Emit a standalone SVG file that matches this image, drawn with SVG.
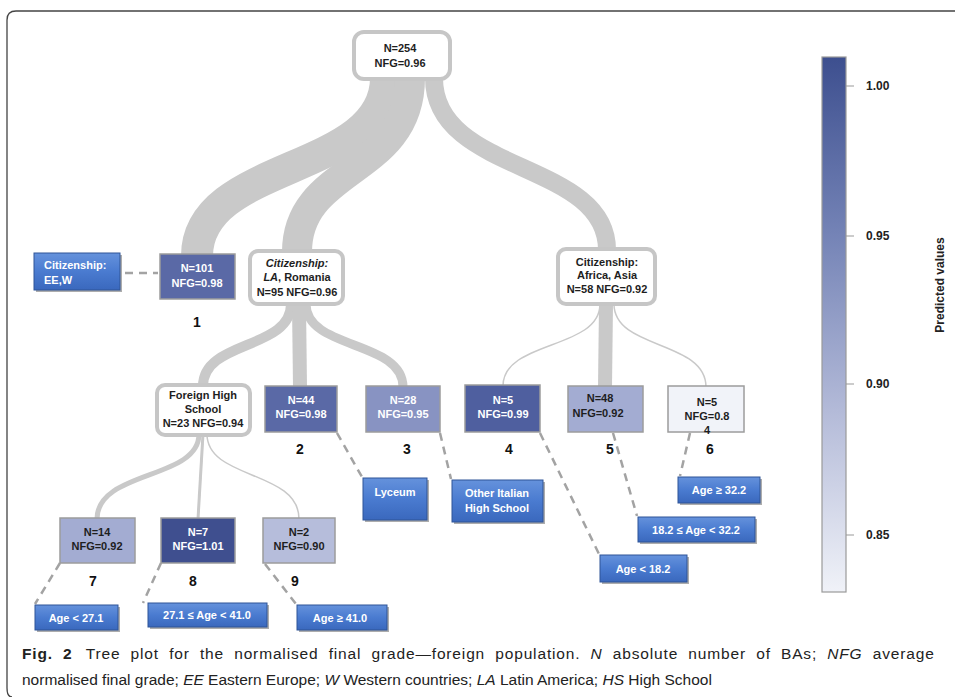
<svg xmlns="http://www.w3.org/2000/svg" width="955" height="697" viewBox="0 0 955 697">
<defs>
<linearGradient id="blueg" x1="0" y1="0" x2="0" y2="1">
<stop offset="0" stop-color="#6592dc"/>
<stop offset="0.5" stop-color="#4a7bd0"/>
<stop offset="1" stop-color="#3a68bd"/>
</linearGradient>
<linearGradient id="cbar" x1="0" y1="0" x2="0" y2="1">
<stop offset="0" stop-color="#3d4f8f"/>
<stop offset="0.33" stop-color="#7483b6"/>
<stop offset="0.66" stop-color="#b3bad8"/>
<stop offset="1" stop-color="#f0f2f8"/>
</linearGradient>
<style>
.br{fill:none;stroke:#c9c9c9;stroke-linecap:butt}
.dash{fill:none;stroke:#a3a3a3;stroke-width:2.5;stroke-dasharray:8 6}
.inner{fill:#fff;stroke:#c6c6c6;stroke-width:4}
.leaf{stroke:#9c9c9c;stroke-width:1.5}
.cond{fill:url(#blueg);stroke:#2f5597;stroke-width:1}
.shadow{fill:#8a8a8a;opacity:0.7}
.t{font-family:"Liberation Sans",Arial,sans-serif;font-weight:bold;font-size:11px;text-anchor:middle}
.tl{font-family:"Liberation Sans",Arial,sans-serif;font-weight:bold;font-size:11px}
.w{fill:#fff}
.k{fill:#1e1e1e}
.num{font-family:"Liberation Sans",Arial,sans-serif;font-weight:bold;font-size:14px;text-anchor:middle;fill:#111}
.cap{font-family:"Liberation Sans",Arial,sans-serif;font-size:15.5px;fill:#222}
.tick{font-family:"Liberation Sans",Arial,sans-serif;font-weight:bold;font-size:12px;fill:#222}
</style>
</defs>
<rect width="955" height="697" fill="#fff"/>
<path d="M955 11 L16 11 Q7 11 7 20 L7 688 Q7 697 12 697" fill="none" stroke="#444" stroke-width="1.3"/>

<g id="connectors">
<path class="br" stroke-width="32" d="M386 78 C386 175 197 160 197 256"/>
<path class="br" stroke-width="30" d="M410 78 C410 175 297 165 297 252"/>
<path class="br" stroke-width="18" d="M434 78 C434 175 607 160 607 250"/>
<path class="br" stroke-width="10" d="M291 304 C291 350 203 340 203 386"/>
<path class="br" stroke-width="14" d="M299 304 L300 387"/>
<path class="br" stroke-width="9" d="M306 304 C306 350 403 340 403 387"/>
<path class="br" stroke-width="1.5" d="M600 304 C600 350 503 340 503 386"/>
<path class="br" stroke-width="14" d="M606 304 L605 387"/>
<path class="br" stroke-width="1.5" d="M614 304 C614 350 706 340 706 387"/>
<path class="br" stroke-width="5" d="M199 434 C199 480 97 470 97 519"/>
<path class="br" stroke-width="3" d="M203 434 L198 519"/>
<path class="br" stroke-width="1.5" d="M207 434 C207 480 299 470 299 519"/>
<path class="dash" d="M125 273 L158 273"/>
<path class="dash" d="M337 433 L362 477"/>
<path class="dash" d="M440 433 L451 479"/>
<path class="dash" d="M540 433 L599 554"/>
<path class="dash" d="M613 433 L637 516"/>
<path class="dash" d="M690 433 L680 476"/>
<path class="dash" d="M60 563 L35 604"/>
<path class="dash" d="M161 563 L143 603"/>
<path class="dash" d="M265 564 L296 604"/>
</g>

<g id="root">
<rect class="inner" x="354" y="32" width="96" height="47" rx="10"/>
<text class="t k" x="400" y="52">N=254</text>
<text class="t k" x="400" y="67">NFG=0.96</text>
</g>

<g id="node1">
<rect class="leaf" x="160" y="254" width="75" height="45" fill="#5a69a6"/>
<text class="t w" x="197" y="272">N=101</text>
<text class="t w" x="197" y="287">NFG=0.98</text>
<text class="num" x="197" y="327">1</text>
</g>

<g id="condEEW">
<rect class="shadow" x="36" y="255" width="86" height="37"/>
<rect class="cond" x="34" y="253" width="86" height="37"/>
<text class="tl w" x="44" y="269">Citizenship:</text>
<text class="tl w" x="44" y="284">EE,W</text>
</g>

<g id="nodeLA">
<rect class="inner" x="250" y="251" width="93" height="53" rx="8"/>
<text class="t k" x="297" y="267" font-style="italic">Citizenship:</text>
<text class="t k" x="297" y="281"><tspan font-style="italic">LA</tspan>, Romania</text>
<text class="t k" x="297" y="296">N=95 NFG=0.96</text>
</g>

<g id="nodeAfrica">
<rect class="inner" x="558" y="249" width="97" height="55" rx="8"/>
<text class="t k" x="607" y="266">Citizenship:</text>
<text class="t k" x="607" y="279">Africa, Asia</text>
<text class="t k" x="607" y="293">N=58 NFG=0.92</text>
</g>

<g id="nodeFHS">
<rect class="inner" x="157" y="385" width="93" height="50" rx="8"/>
<text class="t k" x="203" y="399">Foreign High</text>
<text class="t k" x="203" y="413">School</text>
<text class="t k" x="203" y="427">N=23 NFG=0.94</text>
</g>

<g id="node2">
<rect class="leaf" x="265" y="386" width="72" height="46" fill="#5a69a6"/>
<text class="t w" x="301" y="404">N=44</text>
<text class="t w" x="301" y="418">NFG=0.98</text>
<text class="num" x="300" y="454">2</text>
</g>

<g id="node3">
<rect class="leaf" x="366" y="386" width="74" height="46" fill="#8893c2"/>
<text class="t w" x="403" y="404">N=28</text>
<text class="t w" x="403" y="418">NFG=0.95</text>
<text class="num" x="407" y="454">3</text>
</g>

<g id="node4">
<rect class="leaf" x="465" y="385" width="75" height="47" fill="#4f5f9f"/>
<text class="t w" x="503" y="404">N=5</text>
<text class="t w" x="503" y="418">NFG=0.99</text>
<text class="num" x="509" y="454">4</text>
</g>

<g id="node5">
<rect class="leaf" x="568" y="386" width="75" height="46" fill="#a3acd2"/>
<text class="t k" x="600" y="402">N=48</text>
<text class="t k" x="598" y="417">NFG=0.92</text>
<text class="num" x="610" y="454">5</text>
</g>

<g id="node6">
<rect class="leaf" x="668" y="386" width="76" height="46" fill="#f1f3f9"/>
<text class="t k" x="707" y="406">N=5</text>
<text class="t k" x="707" y="420">NFG=0.8</text>
<text class="t k" x="707" y="434">4</text>
<text class="num" x="710" y="454">6</text>
</g>

<g id="node7">
<rect class="leaf" x="60" y="518" width="75" height="45" fill="#a3acd2"/>
<text class="t k" x="97" y="536">N=14</text>
<text class="t k" x="97" y="550">NFG=0.92</text>
<text class="num" x="93" y="586">7</text>
</g>

<g id="node8">
<rect class="leaf" x="161" y="518" width="74" height="45" fill="#3f4f8f"/>
<text class="t w" x="198" y="536">N=7</text>
<text class="t w" x="198" y="550">NFG=1.01</text>
<text class="num" x="193" y="586">8</text>
</g>

<g id="node9">
<rect class="leaf" x="263" y="518" width="72" height="45" fill="#b6bddb"/>
<text class="t k" x="299" y="536">N=2</text>
<text class="t k" x="299" y="550">NFG=0.90</text>
<text class="num" x="295" y="586">9</text>
</g>

<g id="condLyceum">
<rect class="shadow" x="365" y="480" width="64" height="42"/>
<rect class="cond" x="363" y="478" width="64" height="42"/>
<text class="t w" x="395" y="496">Lyceum</text>
</g>

<g id="condOther">
<rect class="shadow" x="454" y="482" width="91" height="42"/>
<rect class="cond" x="452" y="480" width="91" height="42"/>
<text class="t w" x="497" y="497">Other Italian</text>
<text class="t w" x="497" y="512">High School</text>
</g>

<g id="condAge322">
<rect class="shadow" x="680" y="479" width="82" height="26"/>
<rect class="cond" x="678" y="477" width="82" height="26"/>
<text class="t w" x="719" y="494">Age ≥ 32.2</text>
</g>

<g id="condAge182_322">
<rect class="shadow" x="640" y="519" width="117" height="25"/>
<rect class="cond" x="638" y="517" width="117" height="25"/>
<text class="t w" x="696" y="534">18.2 ≤ Age &lt; 32.2</text>
</g>

<g id="condAge182">
<rect class="shadow" x="602" y="557" width="87" height="27"/>
<rect class="cond" x="600" y="555" width="87" height="27"/>
<text class="t w" x="643" y="573">Age &lt; 18.2</text>
</g>

<g id="condAge271">
<rect class="shadow" x="37" y="607" width="83" height="25"/>
<rect class="cond" x="35" y="605" width="83" height="25"/>
<text class="t w" x="76" y="622">Age &lt; 27.1</text>
</g>

<g id="condAge271_410">
<rect class="shadow" x="150" y="605" width="119" height="24"/>
<rect class="cond" x="148" y="603" width="119" height="24"/>
<text class="t w" x="207" y="619">27.1 ≤ Age &lt; 41.0</text>
</g>

<g id="condAge410">
<rect class="shadow" x="299" y="607" width="90" height="25"/>
<rect class="cond" x="297" y="605" width="90" height="25"/>
<text class="t w" x="340" y="622">Age ≥ 41.0</text>
</g>

<g id="colorbar">
<rect x="822" y="57" width="24" height="535" fill="url(#cbar)" stroke="#9a9a9a" stroke-width="1.2"/>
<path d="M846 86 H854 M846 236 H854 M846 384 H854 M846 535 H854" stroke="#999" stroke-width="1"/>
<text class="tick" x="866" y="90">1.00</text>
<text class="tick" x="866" y="240">0.95</text>
<text class="tick" x="866" y="388">0.90</text>
<text class="tick" x="866" y="539">0.85</text>
<text class="tick" font-size="13" text-anchor="middle" transform="translate(944 285) rotate(-90)">Predicted values</text>
</g>

<g id="caption">
<text class="cap" x="22" y="659" letter-spacing="0.85" word-spacing="5"><tspan font-weight="bold">Fig. 2 </tspan><tspan dx="3">Tree plot for the normalised final grade—foreign population. </tspan><tspan font-style="italic">N</tspan><tspan> absolute number of BAs; </tspan><tspan font-style="italic">NFG</tspan><tspan> average</tspan></text>
<text class="cap" x="22" y="685">normalised final grade; <tspan font-style="italic">EE</tspan> Eastern Europe; <tspan font-style="italic">W</tspan> Western countries; <tspan font-style="italic">LA</tspan> Latin America; <tspan font-style="italic">HS</tspan> High School</text>
</g>
</svg>
